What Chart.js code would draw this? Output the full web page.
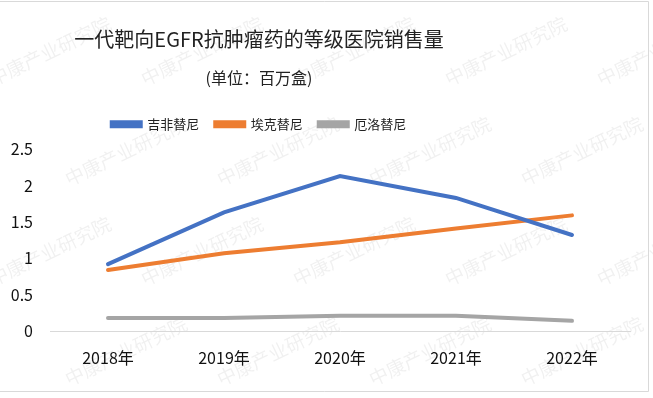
<!DOCTYPE html>
<html>
<head>
<meta charset="utf-8">
<script src="https://cdn.jsdelivr.net/npm/chart.js@4"></script>
<style>
  body { margin: 0; background: #fff; }
</style>
</head>
<body>
<canvas id="myChart" width="653" height="398"></canvas>
<script>
var ctx = document.getElementById('myChart');

var years = ['2018年', '2019年', '2020年', '2021年', '2022年'];
var gefitinib = [0.92, 1.63, 2.13, 1.83, 1.32];
var icotinib = [0.84, 1.07, 1.22, 1.41, 1.59];
var erlotinib = [0.18, 0.18, 0.21, 0.21, 0.14];

var font = '"Noto Sans CJK SC", "Noto Sans", sans-serif';

// watermark, outer frame, and the off-centre title/legend block
var decor = {
    id: 'decor',
    beforeLayout: function (chart) {
        var lg = chart.legend;
        if (lg && !lg._patched) {
            var fit = lg.fit;
            lg.fit = function () {
                fit.apply(this, arguments);
                this.height += 8.5;
            };
            lg._patched = true;
        }
    },
    afterLayout: function (chart) {
        chart.boxes.forEach(function (box) {
            if (box.axis === undefined) {
                box.left -= 56;
                box.right -= 56;
            }
        });
    },
    beforeDraw: function (chart) {
        var c = chart.ctx;
        c.save();
        c.fillStyle = '#fff';
        c.fillRect(0, 0, chart.width, chart.height);
        c.font = '19px ' + font;
        c.fillStyle = 'rgba(0,0,0,0.06)';
        for (var row = 0; row < 5; row++) {
            for (var col = 0; col < 6; col++) {
                var x = col * 152 + (row % 2 ? 76 : 0) - 10;
                var y = row * 100 + 80;
                c.save();
                c.translate(x, y);
                c.rotate(-0.45);
                c.fillText('中康产业研究院', 0, 0);
                c.restore();
            }
        }
        c.restore();
    },
    afterDraw: function (chart) {
        var c = chart.ctx;
        c.save();
        c.strokeStyle = '#d9d9d9';
        c.lineWidth = 1;
        c.beginPath();
        c.moveTo(0, 1.5);
        c.lineTo(648.5, 1.5);
        c.lineTo(648.5, 391.5);
        c.lineTo(0, 391.5);
        c.stroke();
        c.restore();
    }
};

var myChart = new Chart(ctx, {
    type: 'line',
    data: {
        labels: years,
        datasets: [{
            label: '吉非替尼',
            data: gefitinib,
            borderColor: '#4472C4',
            backgroundColor: '#4472C4'
        }, {
            label: '埃克替尼',
            data: icotinib,
            borderColor: '#ED7D31',
            backgroundColor: '#ED7D31'
        }, {
            label: '厄洛替尼',
            data: erlotinib,
            borderColor: '#A5A5A5',
            backgroundColor: '#A5A5A5'
        }]
    },
    options: {
        responsive: false,
        animation: false,
        layout: { padding: { left: 0, right: 23, top: 0, bottom: 0 } },
        elements: {
            point: { radius: 0 },
            line: { borderWidth: 4, tension: 0, borderCapStyle: 'round' }
        },
        plugins: {
            title: {
                display: true,
                text: '一代靶向EGFR抗肿瘤药的等级医院销售量',
                color: '#222',
                font: { family: font, size: 20, weight: 'normal', lineHeight: 1.2 },
                padding: { top: 27, bottom: 0 }
            },
            subtitle: {
                display: true,
                text: '(单位：百万盒)',
                color: '#222',
                font: { family: font, size: 16, weight: 'normal', lineHeight: 1.2 },
                padding: { top: 17, bottom: 14.5 }
            },
            legend: {
                labels: {
                    color: '#222',
                    font: { family: font, size: 13 },
                    boxWidth: 29,
                    boxHeight: 4,
                    padding: 16
                }
            },
            tooltip: { enabled: false }
        },
        scales: {
            x: {
                offset: true,
                grid: { display: false, drawTicks: false },
                border: { color: '#d9d9d9' },
                ticks: {
                    color: '#111',
                    font: { family: font, size: 16 },
                    padding: 17,
                    maxRotation: 0
                },
                afterFit: function (scale) { scale.height = 67; }
            },
            y: {
                min: 0,
                max: 2.5,
                grid: { display: false, drawTicks: false },
                border: { display: false },
                ticks: {
                    stepSize: 0.5,
                    color: '#111',
                    font: { family: font, size: 16 },
                    padding: 17,
                    callback: function (v) { return v; }
                },
                afterFit: function (scale) { scale.width = 50; }
            }
        }
    },
    plugins: [decor]
});
</script>
</body>
</html>
